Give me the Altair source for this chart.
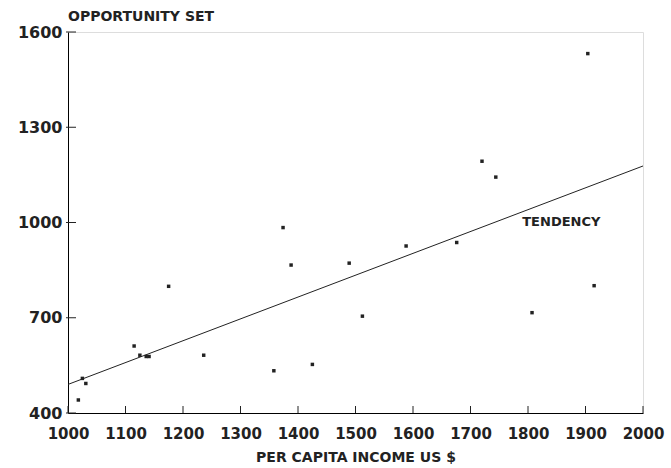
import altair as alt
import pandas as pd

income = [1018, 1025, 1031, 1115, 1125, 1136, 1141, 1175, 1236, 1358, 1374,
          1388, 1425, 1489, 1512, 1588, 1676, 1720, 1744, 1807, 1904, 1915]
opportunity = [441, 509, 493, 611, 582, 578, 578, 799, 582, 533, 984,
               866, 553, 872, 705, 926, 937, 1193, 1143, 716, 1532, 801]

trend_x = [1000, 2000]
trend_y = [490, 1178]

x_ticks = [1000, 1100, 1200, 1300, 1400, 1500, 1600, 1700, 1800, 1900, 2000]
y_ticks = [400, 700, 1000, 1300, 1600]

label_text = ["TENDENCY"]
label_x = [1790]
label_y = [989]

pts = pd.DataFrame({"income": income, "opp": opportunity})
trend = pd.DataFrame({"income": trend_x, "opp": trend_y})
lab = pd.DataFrame({"income": label_x, "opp": label_y, "t": label_text})
xt = pd.DataFrame({"v": x_ticks})
yt = pd.DataFrame({"v": y_ticks})

FONT = "DejaVu Sans"
W, H = 575, 381

xscale = alt.Scale(domain=[1000, 2000], nice=False, zero=False)
yscale = alt.Scale(domain=[400, 1600], nice=False, zero=False)

xaxis = alt.Axis(values=x_ticks, tickSize=0, labelPadding=13, labelFontSize=15,
                 labelFont=FONT, labelFontWeight="bold", labelColor="#222",
                 labelOverlap=False, labelFlush=False, labelBound=False,
                 domainColor="black", grid=False, title="PER CAPITA INCOME US $",
                 titleFont=FONT, titleFontSize=14, titleFontWeight="bold",
                 titlePadding=9, titleColor="#222", format="d")
yaxis = alt.Axis(values=y_ticks, tickSize=0, labelPadding=6, labelFontSize=16,
                 labelFont=FONT, labelFontWeight="bold", labelColor="#222",
                 labelOverlap=False, labelFlush=False,
                 domainColor="black", grid=False, title=None, format="d")

points = alt.Chart(pts).mark_square(size=12, color="#222", opacity=1).encode(
    x=alt.X("income:Q", scale=xscale, axis=xaxis),
    y=alt.Y("opp:Q", scale=yscale, axis=yaxis),
)

line = alt.Chart(trend).mark_line(color="#222", strokeWidth=1).encode(
    x=alt.X("income:Q", scale=xscale),
    y=alt.Y("opp:Q", scale=yscale),
)

text = alt.Chart(lab).mark_text(align="left", baseline="alphabetic", font=FONT,
                                fontSize=13, fontWeight="bold", color="#222").encode(
    x=alt.X("income:Q", scale=xscale),
    y=alt.Y("opp:Q", scale=yscale),
    text="t:N",
)

title = alt.Chart(pd.DataFrame({"t": ["OPPORTUNITY SET"]})).mark_text(
    align="left", baseline="alphabetic", font=FONT, fontSize=14,
    fontWeight="bold", color="#222").encode(
    x=alt.value(0), y=alt.value(-11), text="t:N")

xtick = alt.Chart(xt).mark_rule(color="#222", strokeWidth=1).encode(
    x=alt.X("v:Q", scale=xscale),
    y=alt.value(H - 7),
    y2=alt.value(H),
)
ytick = alt.Chart(yt).mark_rule(color="#222", strokeWidth=1).encode(
    y=alt.Y("v:Q", scale=yscale),
    x=alt.value(-2),
    x2=alt.value(8),
)

chart = alt.layer(line, points, text, title, xtick, ytick).properties(
    width=W, height=H,
    autosize=alt.AutoSizeParams(type="none"),
    padding={"left": 68, "top": 32, "right": 28, "bottom": 55},
).configure_view(stroke="black", strokeWidth=1.2).configure(background="white")

chart.save("out.html", embed_options={"renderer": "svg", "actions": False})
